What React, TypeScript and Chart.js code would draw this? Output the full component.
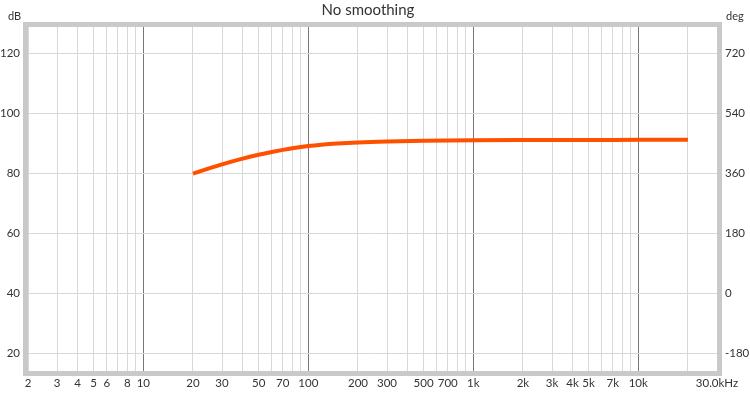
import React, { useEffect, useRef } from 'react';
import { Chart, registerables } from 'chart.js';

Chart.register(...registerables);

const freqs = [20, 25, 30, 40, 50, 60, 70, 80, 100, 120, 150, 200, 300, 500, 1000, 2000, 5000, 10000, 20000];
const splDb = [79.8, 81.55, 82.9, 84.8, 86.1, 87.0, 87.7, 88.25, 89.0, 89.45, 89.85, 90.2, 90.5, 90.72, 90.9, 90.98, 91.03, 91.05, 91.08];

const xTickValues = [
  2, 3, 4, 5, 6, 7, 8, 9,
  10, 20, 30, 40, 50, 60, 70, 80, 90,
  100, 200, 300, 400, 500, 600, 700, 800, 900,
  1000, 2000, 3000, 4000, 5000, 6000, 7000, 8000, 9000,
  10000, 20000, 30000,
];
const xLabeled: Record<number, string> = {
  2: '2', 3: '3', 4: '4', 5: '5', 6: '6', 8: '8', 10: '10',
  20: '20', 30: '30', 50: '50', 70: '70', 100: '100',
  200: '200', 300: '300', 500: '500', 700: '700', 1000: '1k',
  2000: '2k', 3000: '3k', 4000: '4k', 5000: '5k', 7000: '7k', 10000: '10k',
  30000: '30.0kHz',
};
const decadeLines = [10, 100, 1000, 10000];
const dbTicks = [20, 40, 60, 80, 100, 120];
const degTicks = [-180, 0, 180, 360, 540, 720];

const FONT = 'Lato, "DejaVu Sans", sans-serif';
const TEXT = '#333333';

const overlay = {
  id: 'overlay',
  afterDraw(chart: any) {
    const { ctx, chartArea: a } = chart;
    ctx.save();
    ctx.strokeStyle = '#c9c9c9';
    ctx.lineWidth = 5;
    ctx.strokeRect(a.left - 2.5, a.top - 2.5, a.right - a.left + 5, a.bottom - a.top + 5);
    ctx.fillStyle = TEXT;
    ctx.textBaseline = 'middle';
    ctx.font = `15px ${FONT}`;
    ctx.textAlign = 'center';
    ctx.fillText('No smoothing', 368, 10);
    ctx.font = `11px ${FONT}`;
    ctx.textAlign = 'left';
    ctx.fillText('dB', 8, 16);
    ctx.fillText('deg', 726, 16);
    ctx.restore();
  },
};

export default function App() {
  const ref = useRef<HTMLCanvasElement | null>(null);
  useEffect(() => {
    if (!ref.current) return;
    const chart = new Chart(ref.current, {
      type: 'line',
      data: {
        datasets: [
          {
            data: freqs.map((f, i) => ({ x: f, y: splDb[i] })),
            borderColor: '#ff5000',
            borderWidth: 4,
            pointRadius: 0,
            cubicInterpolationMode: 'monotone',
            fill: false,
            yAxisID: 'y',
          },
        ],
      },
      options: {
        responsive: false,
        animation: false,
        layout: { padding: { top: 27, left: 0, right: 0, bottom: 0 } },
        plugins: { legend: { display: false }, tooltip: { enabled: false }, title: { display: false } },
        scales: {
          x: {
            type: 'logarithmic',
            min: 2,
            max: 30000,
            afterBuildTicks: (s: any) => {
              s.ticks = xTickValues.map((v) => ({ value: v }));
            },
            afterFit: (s: any) => {
              s.height = 22;
            },
            border: { display: false },
            grid: {
              drawTicks: false,
              color: (c: any) => (c.tick && decadeLines.includes(c.tick.value) ? '#767676' : '#d8d8d8'),
              lineWidth: 1,
            },
            ticks: {
              autoSkip: false,
              maxRotation: 0,
              minRotation: 0,
              padding: 5,
              color: TEXT,
              font: { family: FONT, size: 11.5 },
              callback: (v: any) => xLabeled[Number(v)] ?? '',
            },
          },
          y: {
            position: 'left',
            min: 14,
            max: 128.67,
            afterBuildTicks: (s: any) => {
              s.ticks = dbTicks.map((v) => ({ value: v }));
            },
            afterFit: (s: any) => {
              s.width = 28;
            },
            border: { display: false },
            grid: { drawTicks: false, color: '#d8d8d8', lineWidth: 1 },
            ticks: { padding: 8, color: TEXT, font: { family: FONT, size: 11.5 } },
          },
          y2: {
            position: 'right',
            min: -234,
            max: 798,
            afterBuildTicks: (s: any) => {
              s.ticks = degTicks.map((v) => ({ value: v }));
            },
            afterFit: (s: any) => {
              s.width = 33;
            },
            border: { display: false },
            grid: { display: false, drawTicks: false },
            ticks: { padding: 8, color: TEXT, font: { family: FONT, size: 11.5 } },
          },
        },
      },
      plugins: [overlay],
    } as any);
    return () => chart.destroy();
  }, []);
  return (
    <div style={{ position: 'fixed', left: 0, top: 0, width: 750, height: 393 }}>
      <canvas ref={ref} width={750} height={393} style={{ width: 750, height: 393 }} />
    </div>
  );
}
